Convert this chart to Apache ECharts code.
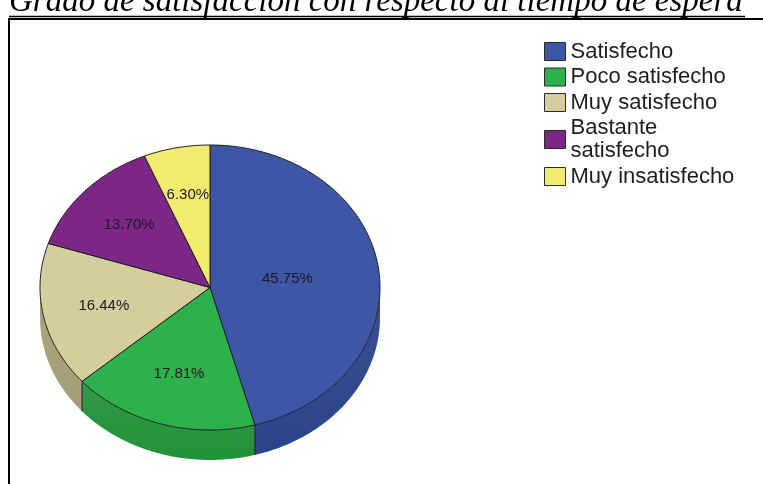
<!DOCTYPE html>
<html>
<head>
<meta charset="utf-8">
<style>
  html, body { margin: 0; padding: 0; background: #ffffff; }
  #chart { width: 763px; height: 484px; }
</style>
<script src="https://cdn.jsdelivr.net/npm/echarts@6/dist/echarts.min.js"></script>
</head>
<body>
<div id="chart"></div>
<script>
// Survey answers: satisfaction with the waiting time
const categories = ['Satisfecho', 'Poco satisfecho', 'Muy satisfecho', 'Bastante satisfecho', 'Muy insatisfecho'];
const percentages = [45.75, 17.81, 16.44, 13.70, 6.30];
const topColors = ['#3d56a6', '#2db14b', '#d4cd9c', '#7c2785', '#f1ec6f'];
const sideColors = ['#2c428a', '#219238', '#a49e76', '#5a1a62', '#c4bf55'];
const titleText = 'Grado de satisfacción con respecto al tiempo de espera';

// Tilted pie geometry (top face ellipse + visible rim depth)
const PIE = { cx: 210, cy: 287.5, rx: 170, ry: 142.5, depth: 30 };

const total = percentages.reduce((s, v) => s + v, 0);
const startFractions = [];
percentages.reduce((acc, v) => { startFractions.push(acc); return acc + v; }, 0);

// angle measured clockwise from 12 o'clock
function ellipsePoint(theta, dy) {
  return [PIE.cx + PIE.rx * Math.sin(theta), PIE.cy - PIE.ry * Math.cos(theta) + (dy || 0)];
}
function arc(a, b, dy) {
  const pts = [];
  const n = Math.max(2, Math.ceil((b - a) / (Math.PI / 180)));
  for (let k = 0; k <= n; k++) pts.push(ellipsePoint(a + (b - a) * k / n, dy));
  return pts;
}

function makeRenderer(i) {
  return function (params, api) {
    const value = api.value(0);
    const a = startFractions[i] / total * Math.PI * 2;
    const b = a + value / total * Math.PI * 2;
    const children = [];

    // visible front rim (lower half of the ellipse)
    const lo = Math.max(a, Math.PI / 2);
    const hi = Math.min(b, Math.PI * 3 / 2);
    if (hi > lo) {
      const pts = arc(lo, hi, 0).concat(arc(lo, hi, PIE.depth).reverse());
      children.push({
        type: 'polygon',
        shape: { points: pts },
        style: {
          fill: new echarts.graphic.LinearGradient(0, 0, 0, 1, [
            { offset: 0, color: echarts.color.lift(sideColors[i], 0.08) },
            { offset: 1, color: sideColors[i] }
          ]),
          stroke: null
        },
        z2: 1
      });
      if (a > Math.PI / 2 && a < Math.PI * 3 / 2) {
        const p1 = ellipsePoint(a, 0), p2 = ellipsePoint(a, PIE.depth);
        children.push({
          type: 'line',
          shape: { x1: p1[0], y1: p1[1], x2: p2[0], y2: p2[1] },
          style: { stroke: '#1c1c28', lineWidth: 1 },
          z2: 2
        });
      }
    }

    // top face of the slice
    children.push({
      type: 'polygon',
      shape: { points: [[PIE.cx, PIE.cy]].concat(arc(a, b, 0)) },
      style: { fill: topColors[i], stroke: '#1e1e24', lineWidth: 1, lineJoin: 'round' },
      z2: 3
    });

    // percentage label at the sector centroid
    const half = (b - a) / 2;
    const f = (2 / 3) * Math.sin(half) / half;
    const m = a + half;
    children.push({
      type: 'text',
      x: PIE.cx + PIE.rx * f * Math.sin(m),
      y: PIE.cy - PIE.ry * f * Math.cos(m),
      style: {
        text: value.toFixed(2) + '%',
        fill: '#1a1a22',
        font: '15px "Liberation Sans", Arial, sans-serif',
        align: 'center',
        verticalAlign: 'middle'
      },
      z2: 10
    });

    return { type: 'group', children: children };
  };
}

const chart = echarts.init(document.getElementById('chart'), null, { renderer: 'canvas' });

const series = categories.map((name, i) => ({
  type: 'custom',
  name: name,
  coordinateSystem: 'none',
  itemStyle: { color: topColors[i] },
  data: [[percentages[i]]],
  renderItem: makeRenderer(i),
  z: i === categories.length - 1 ? 3 : 2
}));

chart.setOption({
  backgroundColor: '#ffffff',
  animation: false,
  color: topColors,
  title: {
    text: titleText,
    left: 9,
    top: -14,
    padding: 0,
    textStyle: {
      fontFamily: '"Liberation Serif", "Times New Roman", serif',
      fontStyle: 'italic',
      fontWeight: 'normal',
      fontSize: 33,
      lineHeight: 33,
      color: '#000000'
    }
  },
  legend: {
    data: categories,
    orient: 'vertical',
    left: 544,
    top: 40,
    padding: 0,
    itemWidth: 21,
    itemHeight: 18,
    itemGap: 2.5,
    icon: 'rect',
    selectedMode: false,
    itemStyle: { borderColor: '#2a2a2a', borderWidth: 1 },
    textStyle: {
      fontFamily: '"Liberation Sans", Arial, sans-serif',
      fontSize: 22,
      lineHeight: 23,
      color: '#1e1e1e',
      width: 176,
      overflow: 'break'
    }
  },
  graphic: [
    {
      type: 'rect',
      shape: { x: 9, y: 19, width: 800, height: 520 },
      style: { fill: null, stroke: '#000000', lineWidth: 2 },
      silent: true
    },
    {
      type: 'line',
      shape: { x1: 9, y1: 16.5, x2: 745, y2: 16.5 },
      style: { stroke: '#000000', lineWidth: 1.5 },
      silent: true
    }
  ],
  series: series
});
</script>
</body>
</html>
